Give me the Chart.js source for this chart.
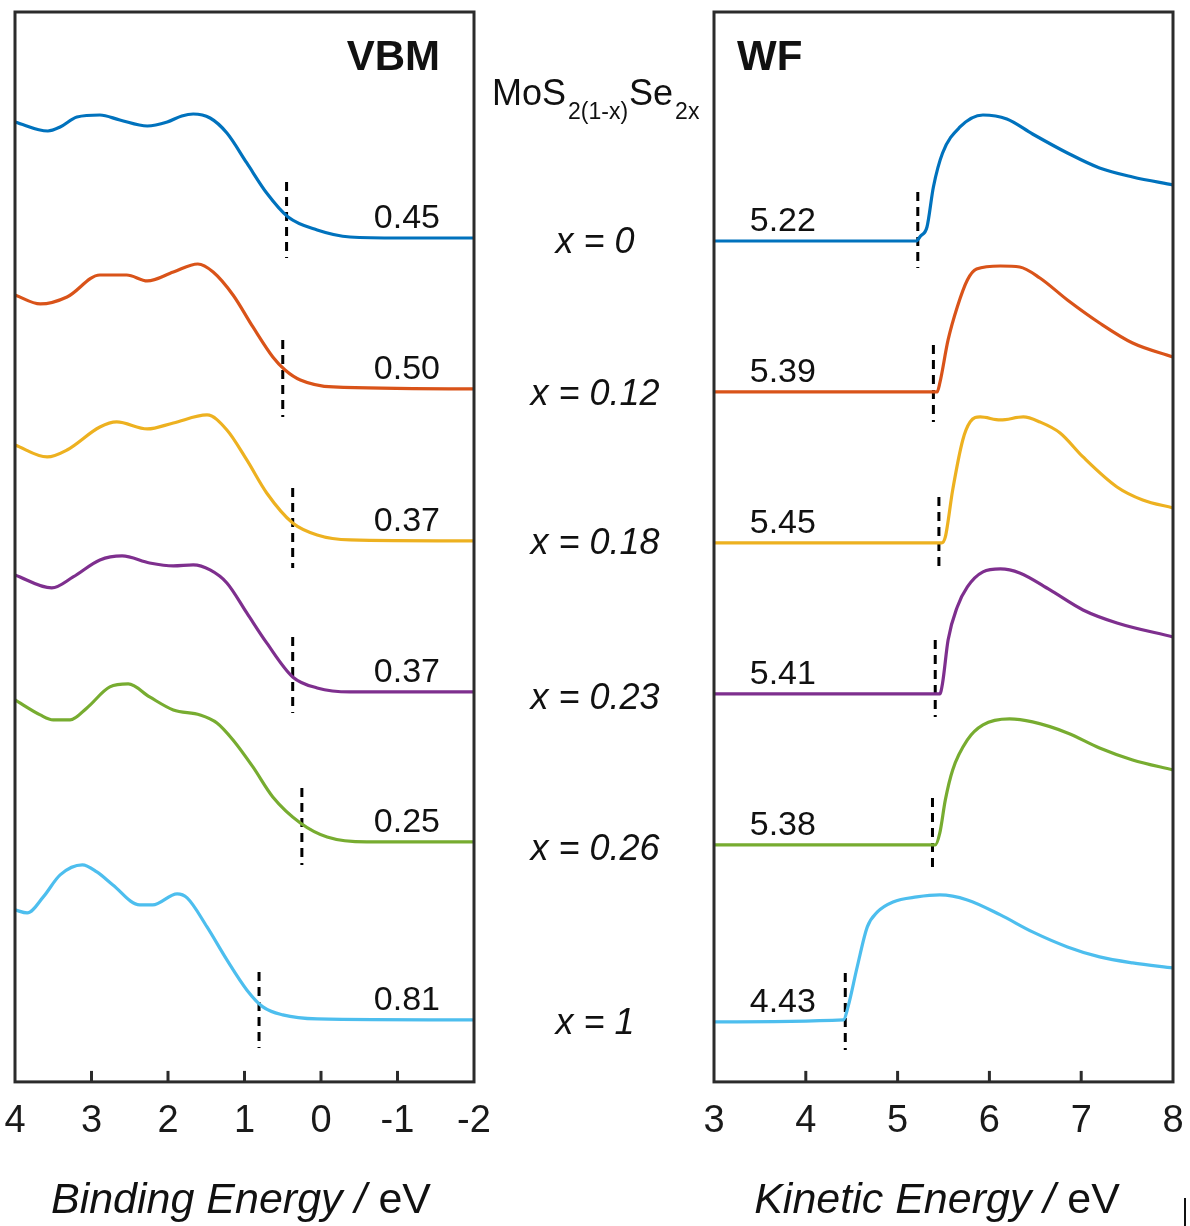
<!DOCTYPE html>
<html>
<head>
<meta charset="utf-8">
<script src="https://cdn.jsdelivr.net/npm/chart.js@4.4.1/dist/chart.umd.min.js"></script>
<style>
  html, body { margin: 0; padding: 0; background: #fff; }
  #wrap { position: relative; width: 1190px; height: 1226px; overflow: hidden; }
  #vbmChart { position: absolute; left: 0; top: 0; }
  #wfChart { position: absolute; left: 690px; top: 0; }
</style>
</head>
<body>
<div id="wrap">
  <canvas id="vbmChart" width="720" height="1226"></canvas>
  <canvas id="wfChart" width="500" height="1226"></canvas>
</div>
<script>
const fontFamily = '"Liberation Sans", Arial, Helvetica, sans-serif';

const sampleNames = ['x = 0', 'x = 0.12', 'x = 0.18', 'x = 0.23', 'x = 0.26', 'x = 1'];
const lineColors = ['#0072BD', '#D95319', '#EDB120', '#7E2F8E', '#77AC30', '#4DBEEE'];

// tick labels
const beTicks = [4, 3, 2, 1, 0, -1, -2];
const beTickLabels = ['4', '3', '2', '1', '0', '-1', '-2'];
const keTicks = [3, 4, 5, 6, 7, 8];
const keTickLabels = ['3', '4', '5', '6', '7', '8'];

// VBM spectra: binding energy (eV) vs stacked intensity (arb. units)
const vbmBE0 = [4.00, 3.57, 3.41, 3.19, 2.89, 2.63, 2.27, 2.01, 1.82, 1.67, 1.45, 1.23, 0.97, 0.71, 0.43, 0.05, -0.38, -1.03, -2.00];
const vbmI0  = [960, 951, 955, 965, 967, 962, 956, 960, 966, 968, 964, 949, 919, 889, 865, 852, 845, 844, 844];
const vbmBE1 = [4.00, 3.67, 3.32, 2.89, 2.54, 2.27, 1.93, 1.61, 1.41, 1.15, 0.89, 0.63, 0.47, 0.27, -0.16, -2.00];
const vbmI1  = [787, 778, 785, 807, 807, 801, 810, 818, 810, 787, 755, 725, 712, 702, 695, 693];
const vbmBE2 = [4.00, 3.58, 3.32, 2.89, 2.67, 2.27, 1.93, 1.49, 1.23, 0.97, 0.71, 0.37, 0.05, -0.38, -2.00];
const vbmI2  = [637, 625, 632, 655, 660, 653, 659, 667, 652, 622, 589, 559, 547, 542, 541];
const vbmBE3 = [4.00, 3.52, 3.24, 2.89, 2.60, 2.24, 1.93, 1.67, 1.45, 1.23, 0.97, 0.71, 0.37, 0.05, -0.38, -2.00];
const vbmI3  = [507, 494, 505, 522, 526, 519, 516, 517, 512, 499, 469, 439, 405, 394, 390, 390];
const vbmBE4 = [4.00, 3.67, 3.50, 3.28, 3.06, 2.76, 2.52, 2.24, 1.93, 1.58, 1.36, 1.15, 0.89, 0.63, 0.27, -0.08, -0.60, -2.00];
const vbmI4  = [382, 367, 362, 362, 374, 395, 398, 385, 372, 367, 359, 342, 315, 285, 259, 245, 240, 240];
const vbmBE5 = [4.00, 3.84, 3.63, 3.41, 3.12, 2.93, 2.72, 2.37, 2.20, 1.88, 1.75, 1.49, 1.23, 0.97, 0.76, 0.50, 0.05, -2.00];
const vbmI5  = [172, 169, 185, 207, 217, 210, 197, 177, 177, 188, 184, 155, 122, 92, 75, 67, 63, 62];

// WF spectra: kinetic energy (eV) vs stacked intensity (arb. units)
const wfKE0 = [3.00, 5.20, 5.25, 5.32, 5.39, 5.49, 5.68, 5.93, 6.19, 6.47, 6.85, 7.20, 7.56, 8.00];
const wfI0  = [841, 841, 846, 855, 895, 929, 955, 967, 963, 948, 929, 914, 905, 897];
const wfKE1 = [3.00, 5.43, 5.46, 5.55, 5.65, 5.76, 5.86, 6.12, 6.33, 6.55, 6.85, 7.20, 7.56, 8.00];
const wfI1  = [690, 690, 699, 742, 775, 802, 813, 816, 815, 804, 782, 759, 739, 725];
const wfKE2 = [3.00, 5.48, 5.52, 5.60, 5.71, 5.79, 5.90, 6.12, 6.37, 6.55, 6.77, 7.02, 7.39, 7.67, 8.00];
const wfI2  = [539, 539, 545, 592, 642, 660, 665, 662, 665, 660, 649, 625, 595, 582, 574];
const wfKE3 = [3.00, 5.46, 5.49, 5.55, 5.65, 5.76, 5.93, 6.12, 6.33, 6.66, 7.02, 7.39, 8.00];
const wfI3  = [388, 388, 399, 442, 475, 495, 510, 513, 509, 492, 472, 459, 445];
const wfKE4 = [3.00, 5.41, 5.46, 5.52, 5.60, 5.76, 5.93, 6.22, 6.47, 6.85, 7.20, 7.56, 8.00];
const wfI4  = [237, 237, 249, 282, 312, 342, 357, 363, 360, 349, 334, 322, 312];
const wfKE5 = [3.00, 4.41, 4.46, 4.56, 4.67, 4.78, 4.95, 5.21, 5.46, 5.76, 6.12, 6.47, 6.85, 7.20, 7.56, 8.00];
const wfI5  = [60, 62, 75, 115, 155, 170, 180, 185, 187, 182, 167, 150, 135, 125, 119, 114];

// onset markers (dashed lines) and their vertical extent
const vbmOnset = [0.45, 0.50, 0.37, 0.37, 0.25, 0.81];
const vbmDashTop = [900, 742, 594, 445, 294, 110];
const vbmDashBottom = [824, 665, 514, 369, 217, 34];
const wfOnset = [5.22, 5.39, 5.45, 5.41, 5.38, 4.43];
const wfDashTop = [890, 737, 585, 442, 284, 109];
const wfDashBottom = [814, 660, 510, 365, 209, 32];

// heights of the sample labels in the middle
const midLabelH = [842, 690, 541, 386, 235, 61];

const vbmX = [vbmBE0, vbmBE1, vbmBE2, vbmBE3, vbmBE4, vbmBE5];
const vbmY = [vbmI0, vbmI1, vbmI2, vbmI3, vbmI4, vbmI5];
const wfX = [wfKE0, wfKE1, wfKE2, wfKE3, wfKE4, wfKE5];
const wfY = [wfI0, wfI1, wfI2, wfI3, wfI4, wfI5];

function curveDataset(xs, ys, color) {
    return {
        data: xs.map((v, i) => ({ x: v, y: ys[i] })),
        borderColor: color,
        borderWidth: 3.2,
        pointRadius: 0,
        cubicInterpolationMode: 'monotone',
        fill: false
    };
}

function dashDataset(x, top, bottom) {
    return {
        data: [{ x: x, y: top }, { x: x, y: bottom }],
        borderColor: '#000',
        borderWidth: 3,
        borderDash: [9, 6],
        pointRadius: 0,
        fill: false
    };
}

// draws the box frame and the inward tick marks on top of the lines
const framePlugin = {
    id: 'frame',
    afterDatasetsDraw(chart) {
        const { ctx, chartArea: a, scales: { x } } = chart;
        ctx.save();
        ctx.strokeStyle = '#2b2b2b';
        ctx.lineWidth = 3;
        x.ticks.forEach(t => {
            const px = x.getPixelForValue(t.value);
            if (px <= a.left + 2 || px >= a.right - 2) return;
            ctx.beginPath();
            ctx.moveTo(px, a.bottom);
            ctx.lineTo(px, a.bottom - 11);
            ctx.stroke();
        });
        ctx.strokeRect(a.left, a.top, a.right - a.left, a.bottom - a.top);
        ctx.restore();
    }
};

function drawAxisTitle(ctx, first, second, centerX, baseY) {
    ctx.textAlign = 'left';
    ctx.font = `italic 43px ${fontFamily}`;
    const w1 = ctx.measureText(first).width;
    ctx.font = `43px ${fontFamily}`;
    const w2 = ctx.measureText(second).width;
    let px = centerX - (w1 + w2) / 2;
    ctx.font = `italic 43px ${fontFamily}`;
    ctx.fillText(first, px, baseY);
    ctx.font = `43px ${fontFamily}`;
    ctx.fillText(second, px + w1, baseY);
}

const vbmTextPlugin = {
    id: 'vbmText',
    afterDraw(chart) {
        const { ctx, scales: { x, y } } = chart;
        ctx.save();
        ctx.fillStyle = '#111';
        ctx.textBaseline = 'alphabetic';

        ctx.textAlign = 'right';
        ctx.font = `bold 42px ${fontFamily}`;
        ctx.fillText('VBM', x.getPixelForValue(-1.556), 70);

        ctx.font = `34px ${fontFamily}`;
        vbmOnset.forEach((v, i) => {
            const base = vbmY[i][vbmY[i].length - 1];
            ctx.fillText(v.toFixed(2), x.getPixelForValue(-1.556), y.getPixelForValue(base) - 10);
        });

        // sample labels between the panels
        ctx.textAlign = 'center';
        ctx.font = `italic 36px ${fontFamily}`;
        sampleNames.forEach((s, i) => {
            ctx.fillText(s, 595, y.getPixelForValue(midLabelH[i]) + 13);
        });

        // MoS2(1-x)Se2x
        const parts = [['MoS', 36, 0], ['2(1-x)', 23, 14], ['Se', 36, 0], ['2x', 23, 14]];
        let px = 492;
        ctx.textAlign = 'left';
        parts.forEach(([t, size, dy]) => {
            ctx.font = `${size}px ${fontFamily}`;
            ctx.fillText(t, px, 105 + dy);
            px += ctx.measureText(t).width + (dy ? 1 : 2);
        });

        drawAxisTitle(ctx, 'Binding Energy / ', 'eV', 241, 1213);
        ctx.restore();
    }
};

const wfTextPlugin = {
    id: 'wfText',
    afterDraw(chart) {
        const { ctx, scales: { x, y } } = chart;
        ctx.save();
        ctx.fillStyle = '#111';
        ctx.textBaseline = 'alphabetic';

        ctx.textAlign = 'left';
        ctx.font = `bold 42px ${fontFamily}`;
        ctx.fillText('WF', 47, 70);

        ctx.textAlign = 'center';
        ctx.font = `34px ${fontFamily}`;
        wfOnset.forEach((v, i) => {
            const base = wfY[i][0];
            ctx.fillText(v.toFixed(2), x.getPixelForValue(3.75), y.getPixelForValue(base) - 10);
        });

        drawAxisTitle(ctx, 'Kinetic Energy / ', 'eV', 247, 1213);

        // small stray mark at the bottom right of the figure
        ctx.strokeStyle = '#111';
        ctx.lineWidth = 2;
        ctx.beginPath();
        ctx.moveTo(495, 1198);
        ctx.lineTo(495, 1226);
        ctx.stroke();
        ctx.restore();
    }
};

function xScale(min, max, reverse, ticks, labels) {
    return {
        type: 'linear',
        min: min,
        max: max,
        reverse: reverse,
        afterBuildTicks: s => { s.ticks = ticks.map(v => ({ value: v })); },
        ticks: {
            callback: v => labels[ticks.indexOf(v)],
            font: { family: fontFamily, size: 38, lineHeight: 1.95 },
            color: '#1a1a1a',
            padding: 3,
            maxRotation: 0,
            autoSkip: false
        },
        grid: { display: false, drawTicks: false },
        border: { display: false }
    };
}

function baseOptions(xOpts, padding) {
    return {
        responsive: false,
        animation: false,
        devicePixelRatio: 1,
        events: [],
        layout: { padding: padding },
        plugins: { legend: { display: false }, tooltip: { enabled: false } },
        scales: {
            x: xOpts,
            y: { display: false, min: 0, max: 1070 }
        }
    };
}

const vbmDatasets = [];
vbmX.forEach((xs, i) => vbmDatasets.push(curveDataset(xs, vbmY[i], lineColors[i])));
vbmOnset.forEach((v, i) => vbmDatasets.push(dashDataset(v, vbmDashTop[i], vbmDashBottom[i])));

const wfDatasets = [];
wfX.forEach((xs, i) => wfDatasets.push(curveDataset(xs, wfY[i], lineColors[i])));
wfOnset.forEach((v, i) => wfDatasets.push(dashDataset(v, wfDashTop[i], wfDashBottom[i])));

new Chart(document.getElementById('vbmChart'), {
    type: 'line',
    data: { datasets: vbmDatasets },
    options: baseOptions(xScale(-2, 4, true, beTicks, beTickLabels), { left: 15, right: 246, top: 12, bottom: 64 }),
    plugins: [framePlugin, vbmTextPlugin]
});

new Chart(document.getElementById('wfChart'), {
    type: 'line',
    data: { datasets: wfDatasets },
    options: baseOptions(xScale(3, 8, false, keTicks, keTickLabels), { left: 24, right: 17, top: 12, bottom: 64 }),
    plugins: [framePlugin, wfTextPlugin]
});
</script>
</body>
</html>
